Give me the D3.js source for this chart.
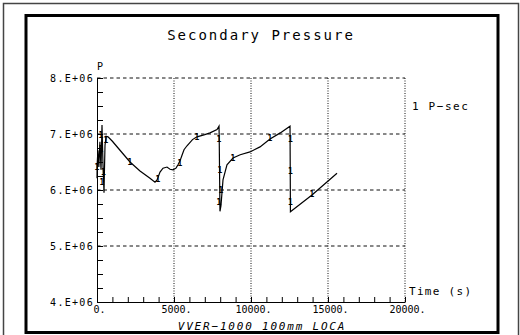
<html>
<head>
<title>Secondary Pressure</title>
<script type="text/javascript" src="https://cdn.jsdelivr.net/npm/d3@7"></script>
<style>
  * { margin: 0; padding: 0; }
  body { background: #fff; }
  svg text { font-family: "DejaVu Sans Mono", "Liberation Mono", monospace; fill: #000; }
  .ax path, .ax line { stroke: #000; stroke-width: 1; }
  .ax text { font-size: 10px; }
</style>
</head>
<body>
<div id="chart"></div>
<script type="text/javascript">
// time (s)
var timeVals = [0, 10, 60, 120, 190, 260, 325, 340, 390, 455, 470, 520, 590, 714,
  1000, 1494, 2143, 2792, 3442, 3766, 3900, 4091, 4286, 4546, 4740, 4935, 5130,
  5260, 5390, 5520, 5650, 5845, 6200, 6494, 7000, 7338, 7793, 7923, 7935, 7985,
  8050, 8182, 8440, 8832, 9300, 9936, 10585, 11235, 11900, 12534, 12560, 13960, 15585];
// P-sec (Pa)
var pressVals = [6.21e6, 6.45e6, 6.71e6, 6.41e6, 6.86e6, 6.36e6, 7.16e6, 6.98e6, 6.45e6, 5.95e6, 6.18e6, 6.80e6, 6.96e6, 6.95e6,
  6.87e6, 6.71e6, 6.50e6, 6.34e6, 6.21e6, 6.14e6, 6.18e6, 6.32e6, 6.39e6, 6.41e6, 6.37e6, 6.36e6, 6.39e6,
  6.45e6, 6.52e6, 6.62e6, 6.72e6, 6.79e6, 6.90e6, 6.95e6, 6.99e6, 7.02e6, 7.08e6, 7.14e6, 6.95e6, 5.62e6,
  5.72e6, 6.18e6, 6.45e6, 6.57e6, 6.63e6, 6.68e6, 6.77e6, 6.91e6, 7.02e6, 7.14e6, 5.61e6, 5.91e6, 6.30e6];

// curve markers "1"
var markTime = [260, 260, 0, 420, 325, 585, 2143, 3961, 5390, 6494, 7923, 7988, 8053, 7923, 8832, 11235, 12560, 12560, 12560, 13962];
var markPress = [6.98e6, 6.73e6, 6.41e6, 6.33e6, 6.14e6, 6.89e6, 6.50e6, 6.20e6, 6.48e6, 6.95e6, 6.91e6, 6.36e6, 6.00e6, 5.79e6, 6.57e6, 6.93e6, 6.91e6, 6.34e6, 5.79e6, 5.93e6];

var xMajor = [0, 5000, 10000, 15000, 20000];
var xMinor = d3.range(0, 20001, 1000);
var yMajor = [4e6, 5e6, 6e6, 7e6, 8e6];
var yMinor = d3.range(4e6, 8e6 + 1, 0.25e6);

var title = "Secondary Pressure";
var caseLabel = "VVER-1000 100mm LOCA";

(function() {
  var W = 520, H = 335;
  var svg = d3.select("#chart").append("svg")
      .attr("width", W).attr("height", H);

  // frames
  svg.append("rect").attr("x", 3.5).attr("y", 3.5).attr("width", 515).attr("height", 340)
      .attr("fill", "none").attr("stroke", "#444").attr("stroke-width", 1.5);
  svg.append("rect").attr("x", 26).attr("y", 15.5).attr("width", 472).attr("height", 317)
      .attr("fill", "none").attr("stroke", "#000").attr("stroke-width", 3);

  var x = d3.scaleLinear().domain([0, 20000]).range([97, 405]);
  var y = d3.scaleLinear().domain([4e6, 8e6]).range([302, 78]);

  // grid
  svg.selectAll("hgrid").data(yMajor.slice(1)).enter().append("line")
      .attr("x1", x(0)).attr("x2", x(20000))
      .attr("y1", function(d) { return y(d); }).attr("y2", function(d) { return y(d); })
      .attr("stroke", "#111").attr("stroke-width", 1).attr("stroke-dasharray", "3.5,3");
  svg.selectAll("vgrid").data(xMajor.slice(1)).enter().append("line")
      .attr("x1", function(d) { return x(d); }).attr("x2", function(d) { return x(d); })
      .attr("y1", y(8e6)).attr("y2", y(4e6))
      .attr("stroke", "#111").attr("stroke-width", 1).attr("stroke-dasharray", "1,1.5");

  // axes: minor ticks inward
  svg.append("g").attr("class", "ax").attr("transform", "translate(0," + y(4e6) + ")")
      .call(d3.axisBottom(x).tickValues(xMinor).tickSize(-5).tickSizeOuter(0).tickFormat(""));
  svg.append("g").attr("class", "ax").attr("transform", "translate(" + x(0) + ",0)")
      .call(d3.axisLeft(y).tickValues(yMinor).tickSize(-6).tickSizeOuter(0).tickFormat(""));

  // tick labels
  var xl = svg.append("g").attr("class", "ax").attr("transform", "translate(2," + y(4e6) + ")")
      .call(d3.axisBottom(x).tickValues(xMajor).tickSize(0).tickPadding(6)
        .tickFormat(function(d) { return d + "."; }));
  xl.select(".domain").remove();
  xl.selectAll("text").attr("dy", "0.5em").attr("font-size", "10px");

  var yl = svg.append("g").attr("class", "ax").attr("transform", "translate(" + (x(0) - 3) + ",0)")
      .call(d3.axisLeft(y).tickValues(yMajor).tickSize(0).tickPadding(0)
        .tickFormat(function(d) { return (d / 1e6) + ".E+06"; }));
  yl.select(".domain").remove();
  yl.selectAll("text").attr("font-size", "10px").style("letter-spacing", "1.3px");

  // curve
  var pts = timeVals.map(function(t, i) { return [t, pressVals[i]]; });
  var line = d3.line().x(function(d) { return x(d[0]); }).y(function(d) { return y(d[1]); });
  svg.append("path").datum(pts).attr("d", line)
      .attr("fill", "none").attr("stroke", "#000").attr("stroke-width", 1.2);

  var marks = markTime.map(function(t, i) { return [t, markPress[i]]; });
  svg.selectAll("mark").data(marks).enter().append("text")
      .attr("x", function(d) { return x(d[0]); })
      .attr("y", function(d) { return y(d[1]) + 3; })
      .attr("text-anchor", "middle").attr("font-size", "8px").attr("font-weight", "bold")
      .text("1");

  // texts
  svg.append("text").attr("x", 261).attr("y", 40).attr("text-anchor", "middle")
      .attr("font-size", "14px").style("letter-spacing", "2px").text(title);
  svg.append("text").attr("x", 97).attr("y", 70).attr("font-size", "10px").text("P");
  svg.append("text").attr("x", 412).attr("y", 110).attr("font-size", "11px")
      .style("letter-spacing", "1.6px").text("1 P\u2212sec");
  svg.append("text").attr("x", 409).attr("y", 295).attr("font-size", "11px")
      .style("letter-spacing", "1.3px").text("Time (s)");
  svg.append("text").attr("x", 262).attr("y", 330).attr("text-anchor", "middle")
      .attr("font-size", "11px").attr("font-style", "italic")
      .style("letter-spacing", "1.8px").text(caseLabel.replace(/-/g, "\u2212"));
})();
</script>
</body>
</html>
